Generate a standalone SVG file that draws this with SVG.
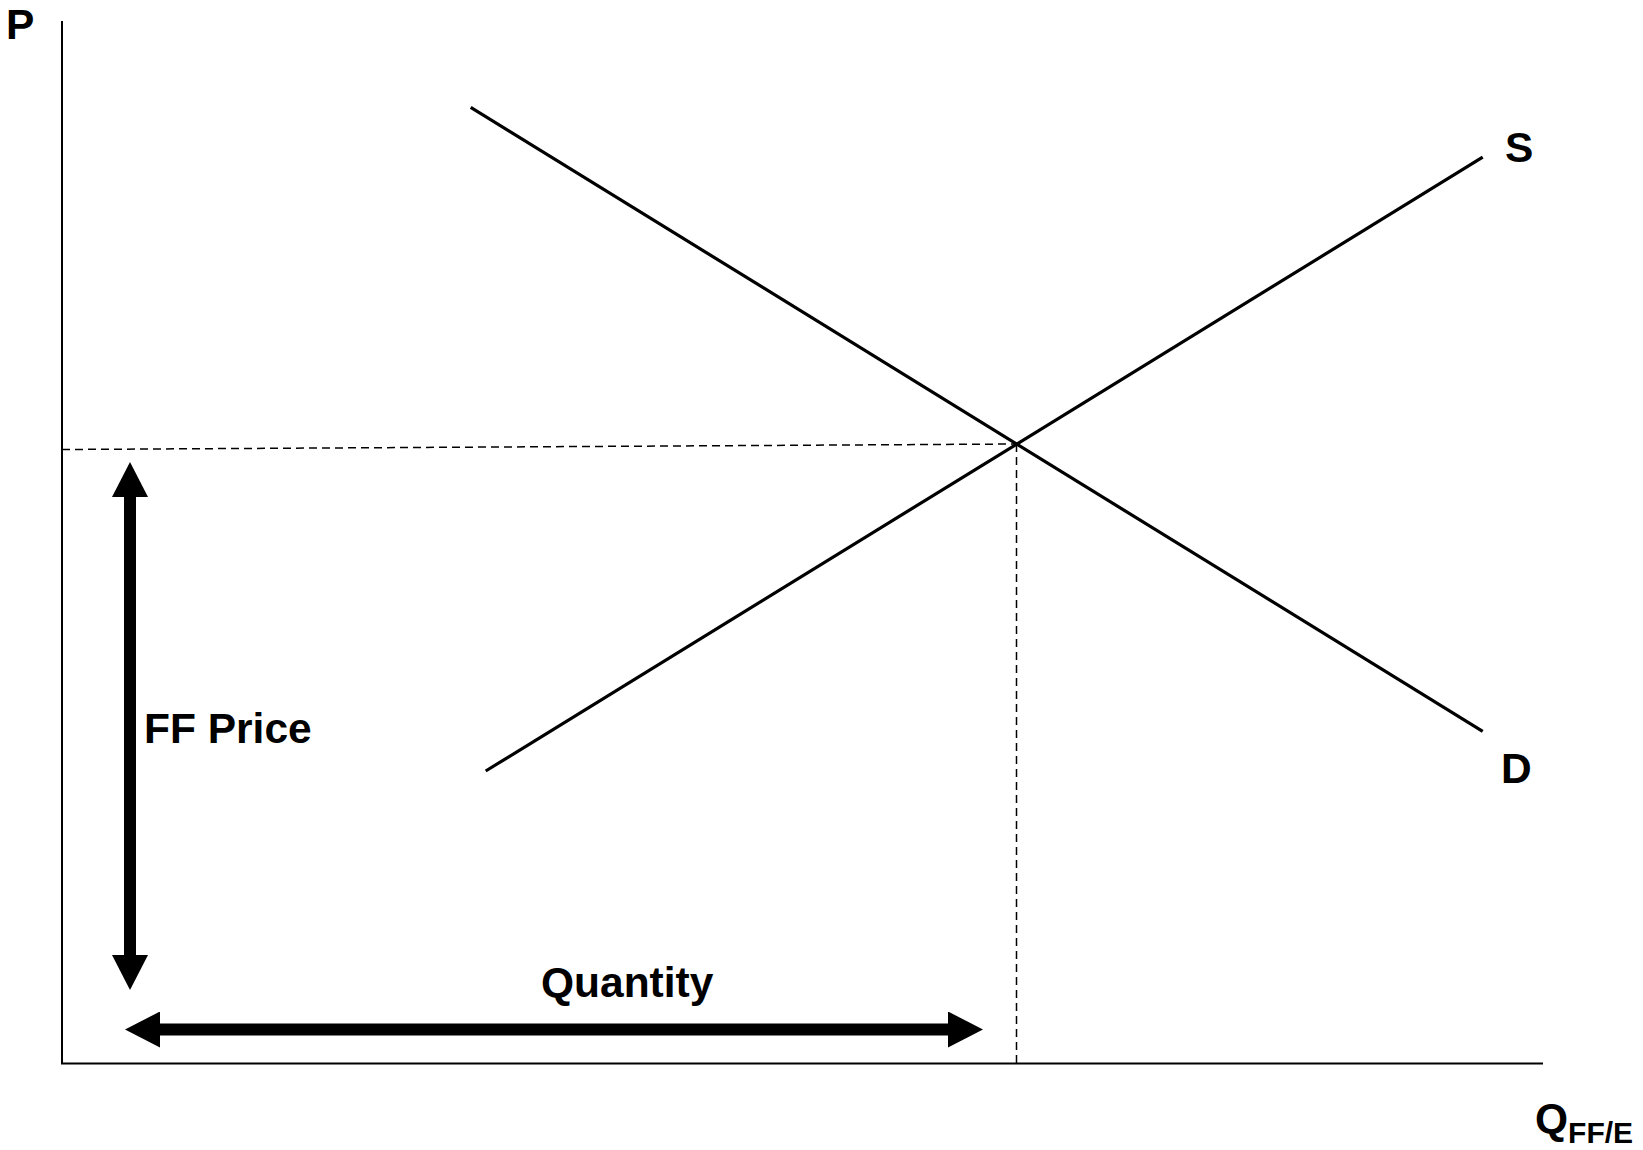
<svg xmlns="http://www.w3.org/2000/svg" width="1643" height="1150" viewBox="0 0 1643 1150">
  <style>
    .lbl { font-family: "Liberation Sans", Arial, sans-serif; font-weight: bold; fill: #000; font-size: 42.5px; }
    .axis { stroke: #000; stroke-width: 2; fill: none; }
    .curve { stroke: #000; stroke-width: 3.2; fill: none; }
    .dash { stroke: #000; stroke-width: 1.5; stroke-dasharray: 8 5; fill: none; }
    .big { stroke: #000; stroke-width: 12; fill: none; }
  </style>
  <defs>
    <marker id="head" markerUnits="userSpaceOnUse" markerWidth="36" markerHeight="36" refX="0" refY="18" orient="auto-start-reverse" viewBox="0 0 36 36">
      <path d="M0,0 L35,18 L0,36 z" fill="#000"/>
    </marker>
  </defs>
  <rect width="1643" height="1150" fill="#fff"/>
  <g id="axes">
    <line class="axis" x1="62" y1="21" x2="62" y2="1064"/>
    <line class="axis" x1="61" y1="1063.5" x2="1543" y2="1063.5"/>
  </g>
  <g id="guides">
    <line class="dash" x1="62" y1="449.5" x2="1016.5" y2="444"/>
    <line class="dash" x1="1016.5" y1="444" x2="1016.5" y2="1063"/>
  </g>
  <g id="demand">
    <line class="curve" x1="470.7" y1="107.3" x2="1482.7" y2="731.4"/>
    <text class="lbl" x="1501" y="782.5">D</text>
  </g>
  <g id="supply">
    <line class="curve" x1="485.7" y1="771" x2="1482.7" y2="157.2"/>
    <text class="lbl" x="1505" y="162">S</text>
  </g>
  <g id="connectors">
    <line class="big" x1="130" y1="497" x2="130" y2="955" marker-start="url(#head)" marker-end="url(#head)"/>
    <line class="big" x1="160" y1="1029.5" x2="948" y2="1029.5" marker-start="url(#head)" marker-end="url(#head)"/>
  </g>
  <g id="labels">
    <text class="lbl" x="6" y="39">P</text>
    <text class="lbl" x="144" y="743">FF Price</text>
    <text class="lbl" x="541" y="997">Quantity</text>
    <text class="lbl" x="1535" y="1133">Q<tspan font-size="30" dy="10">FF/E</tspan></text>
  </g>
</svg>
